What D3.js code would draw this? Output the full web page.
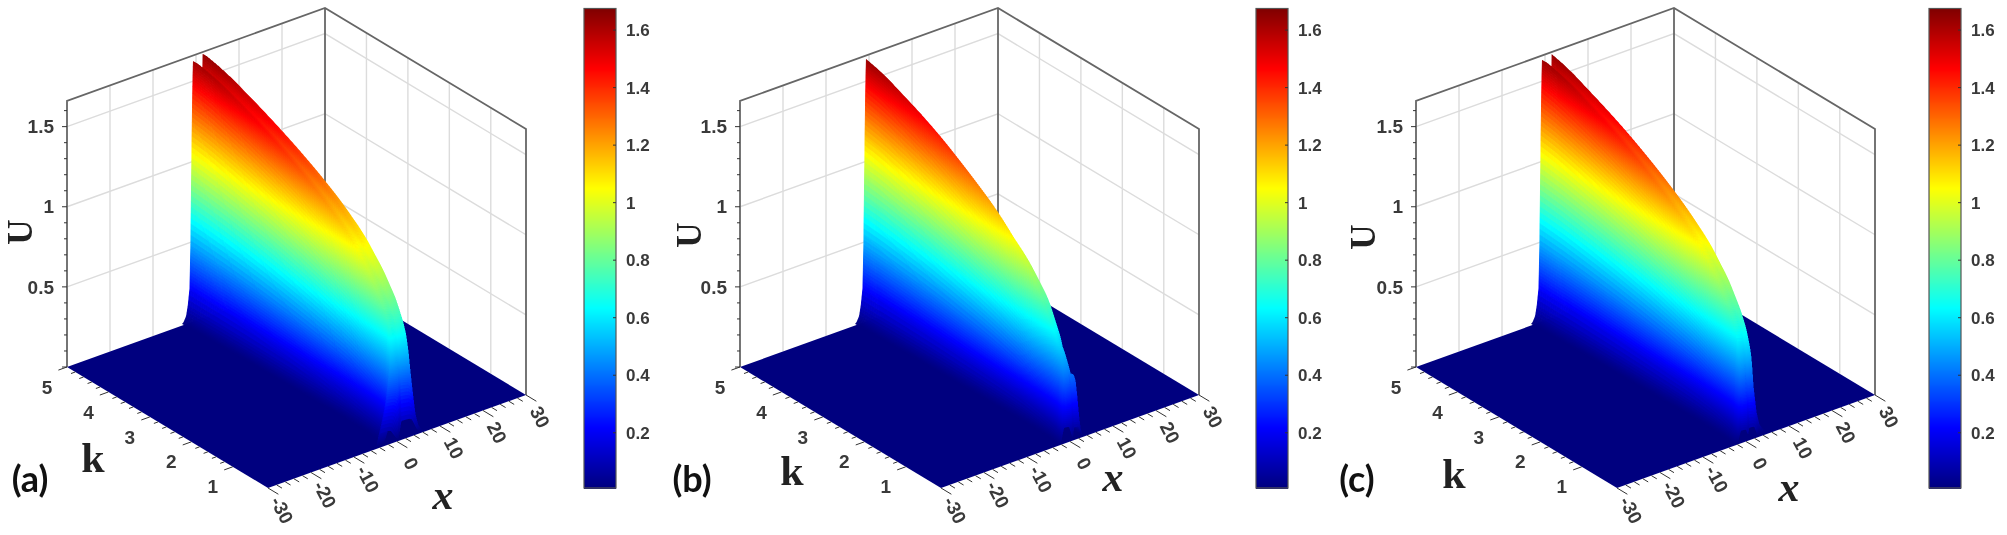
<!DOCTYPE html>
<html>
<head>
<meta charset="utf-8">
<style>
  html, body { margin: 0; padding: 0; background: #fff; }
  svg { display: block; filter: blur(0.6px); }
</style>
<script src="https://cdn.jsdelivr.net/npm/d3@7"></script>
</head>
<body>
<div id="chart"></div>
<script>
// AXIS TICKS
const xTicks = [-30, -20, -10, 0, 10, 20, 30];
const kTicks = [1, 2, 3, 4, 5];
const uTicks = [0.5, 1, 1.5];
const barTicks = [0.2, 0.4, 0.6, 0.8, 1, 1.2, 1.4, 1.6];
const panelLabels = ["(a)", "(b)", "(c)"];

// RANGES
const xRange = [-30, 30];
const kRange = [0.15, 5];
const uRange = [0, 1.66];
const barRange = [0.008, 1.675];

// JET COLOURS
const jetColors = ["#00007f", "#0000ff", "#00ffff", "#ffff00", "#ff0000", "#7f0000"];
const jetStops = [0, 0.125, 0.375, 0.625, 0.875, 1];

// RIDGE VALUES, one entry per k in kAnchors
const kAnchors = [0.15, 0.155, 0.16, 0.17, 0.18, 0.2, 0.23, 0.27, 0.35, 0.5, 0.82, 1.3, 1.9, 2.6, 3.45, 4.3, 5];

const rearPeakA = [0.12, 0.25, 0.36, 0.46, 0.52, 0.58, 0.64, 0.69, 0.75, 0.84, 0.97, 1.12, 1.25, 1.37, 1.49, 1.59, 1.665];
const rearPosA = [1, 0.9, 0.8, 0.7, 0.6, 0.6, 0.6, 0.7, 0.9, 1.1, 1.3, 1.5, 1.6, 1.6, 1.6, 1.6, 1.6];
const frontPeakA = [0.09, 0.2, 0.3, 0.42, 0.5, 0.56, 0.62, 0.67, 0.73, 0.82, 0.95, 1.1, 1.23, 1.35, 1.47, 1.57, 1.64];
const frontPosA = [-4, -3, -2.3, -1.7, -1.3, -1, -0.8, -0.7, -0.5, -0.3, -0.1, 0, -0.1, -0.2, -0.3, -0.5, -0.7];
const frontSpreadA = [1, 1, 1, 1, 1, 1, 1, 1, 1, 1, 1, 1, 1, 1, 1, 1, 1];

const rearPeakB = [0.08, 0.15, 0.22, 0.3, 0.35, 0.4, 0.41, 0.36, 0.3, 0.58, 0.8, 0.98, 1.13, 1.27, 1.41, 1.5, 1.58];
const rearPosB = [0.9, 0.8, 0.7, 0.6, 0.5, 0.5, 0.5, 0.5, 0.5, 0.5, 0.5, 0.4, 0.3, 0.2, 0.1, 0, -0.2];
const frontPeakB = [0.1, 0.16, 0.22, 0.3, 0.36, 0.42, 0.46, 0.5, 0.55, 0.62, 0.8, 1, 1.17, 1.31, 1.46, 1.57, 1.66];
const frontPosB = [-1.4, -1.3, -1.2, -1.1, -1, -0.9, -0.8, -0.7, -0.5, -0.3, -0.1, 0, -0.1, -0.2, -0.3, -0.5, -0.7];
const frontSpreadB = [0.5, 0.55, 0.6, 0.65, 0.7, 0.65, 0.6, 0.55, 0.5, 0.45, 0.4, 0.35, 0.3, 0.25, 0.2, 0.15, 0.1];

const rearPeakC = [0.08, 0.18, 0.27, 0.36, 0.42, 0.5, 0.56, 0.61, 0.68, 0.77, 0.92, 1.08, 1.22, 1.35, 1.48, 1.58, 1.665];
const rearPosC = [0.7, 0.6, 0.6, 0.5, 0.5, 0.5, 0.6, 0.7, 0.9, 1.1, 1.3, 1.5, 1.6, 1.6, 1.6, 1.6, 1.6];
const frontPeakC = [0.08, 0.15, 0.22, 0.31, 0.38, 0.46, 0.52, 0.58, 0.65, 0.75, 0.9, 1.06, 1.2, 1.33, 1.46, 1.57, 1.65];
const frontPosC = [-1.2, -1.1, -1.1, -1, -1, -0.9, -0.8, -0.7, -0.5, -0.3, -0.1, 0, -0.1, -0.2, -0.3, -0.5, -0.7];
const frontSpreadC = [0.5, 0.5, 0.6, 0.7, 0.8, 1, 1, 1, 1, 1, 1, 1, 1, 1, 1, 1, 1];

// CROSS SECTION OF ONE HUMP, steep on the -x side, slow on the +x side
const profileS = [-3, -2.2, -1.6, -1.2, -0.8, -0.6, -0.46, -0.3, -0.15, 0, 1, 2, 2.6, 3.2, 3.8, 4.5, 5.5, 6.5];
const profileU = [0, 0.01, 0.03, 0.07, 0.133, 0.3, 0.5, 0.72, 0.9, 1, 0.985, 0.965, 0.9, 0.6, 0.3, 0.12, 0.03, 0];

const rearWidths = [0.95, 0.45, 0.5];

const ridges = [
  { rearPeak: rearPeakA, rearPos: rearPosA, frontPeak: frontPeakA, frontPos: frontPosA, frontSpread: frontSpreadA },
  { rearPeak: rearPeakB, rearPos: rearPosB, frontPeak: frontPeakB, frontPos: frontPosB, frontSpread: frontSpreadB },
  { rearPeak: rearPeakC, rearPos: rearPosC, frontPeak: frontPeakC, frontPos: frontPosC, frontSpread: frontSpreadC }
];

// LAYOUT
const svgWidth = 2007;
const svgHeight = 535;
const panelShift = [0, 673, 1349];
const barShift = [0, 672, 1345];
const corner = { x: 268, y: 488 };
const bar = { x: 584, width: 32, top: 8.5, bottom: 488 };
const surfaceBox = { width: 560, height: 535, zoom: 2 };
const titles = [
  { u: [20, 232], k: [93, 472], x: [443, 509], tag: [30, 492] },
  { u: [689, 235], k: [792, 485], x: [1113, 491], tag: [692, 492] },
  { u: [1363, 237], k: [1454, 488], x: [1789, 501], tag: [1357, 492] }
];

// PROJECTION SCALES
const xToPx = d3.scaleLinear().domain(xRange).range([0, 258]);
const xToPy = d3.scaleLinear().domain(xRange).range([0, -93]);
const kToPx = d3.scaleLinear().domain(kRange).range([0, -201]);
const kToPy = d3.scaleLinear().domain(kRange).range([0, -121]);
const uToPy = d3.scaleLinear().domain(uRange).range([0, -266]);

const project = (x, k, u) => [
  corner.x + xToPx(x) + kToPx(k),
  corner.y + xToPy(x) + kToPy(k) + uToPy(u)
];

const colorScale = d3
  .scaleLinear()
  .domain(jetStops.map(d => barRange[0] + d * (barRange[1] - barRange[0])))
  .range(jetColors)
  .clamp(true);

const barScale = d3.scaleLinear().domain(barRange).range([bar.bottom, bar.top]);
const profile = d3.scaleLinear().domain(profileS).range(profileU).clamp(true);

const svg = d3
  .select("#chart")
  .append("svg")
  .attr("width", svgWidth)
  .attr("height", svgHeight)
  .attr("viewBox", `0 0 ${svgWidth} ${svgHeight}`);

const line = pts => `M${pts.map(p => p.join(",")).join("L")}`;

// MESH SAMPLES
const meshK = d3.range(0.15, 0.2, 0.001).concat(
  d3.range(0.2, 0.3, 0.003),
  d3.range(0.3, 1, 0.02),
  d3.range(1, 5, 0.05),
  [5]
);
const steepS = d3.range(-3, -0.8, 0.12).concat(d3.range(-0.8, 0.05, 0.015));
const slowS = d3.range(0.4, 2.4, 0.5).concat(d3.range(2.4, 5, 0.07), d3.range(5, 6.6, 0.4));

// read a ridge table at k, with a little easing around the anchors
const tableAt = arr => {
  const s = d3.scaleLinear().domain(kAnchors).range(arr).clamp(true);
  return k => {
    const w = 0.12 * (k - kRange[0]);
    return d3.mean([s(k - w), s(k - w / 2), s(k), s(k + w / 2), s(k + w)]);
  };
};

const rowsFor = i => {
  const r = ridges[i];
  const rp = tableAt(r.rearPeak);
  const rx = tableAt(r.rearPos);
  const fp = tableAt(r.frontPeak);
  const fx = tableAt(r.frontPos);
  const fs = tableAt(r.frontSpread);
  const rw = rearWidths[i];
  return meshK.map(k => {
    const c1 = fx(k);
    const c2 = rx(k);
    const a1 = fp(k);
    const a2 = rp(k);
    const sp = fs(k);
    const xs = steepS.map(s => c1 + s)
      .concat(slowS.map(s => c1 + s * sp), steepS.map(s => c2 + s * rw), slowS.map(s => c2 + s * rw))
      .sort(d3.ascending);
    return {
      k,
      pts: xs.map(x => {
        const d1 = x - c1;
        const u1 = a1 * profile(d1 < 0 ? d1 : d1 / sp);
        const u2 = a2 * profile((x - c2) / rw);
        return { x, u: Math.max(u1, u2) };
      })
    };
  });
};

// the surface mesh is too dense for svg nodes, so paint it once and place it as one image
const surfaceImage = i => {
  const canvas = d3.create("canvas")
    .attr("width", surfaceBox.width * surfaceBox.zoom)
    .attr("height", surfaceBox.height * surfaceBox.zoom)
    .node();
  const ctx = canvas.getContext("2d");
  ctx.scale(surfaceBox.zoom, surfaceBox.zoom);
  ctx.lineWidth = 0.5;
  const rows = rowsFor(i);
  for (let a = rows.length - 2; a >= 0; a--) {
    const near = rows[a];
    const far = rows[a + 1];
    for (let b = near.pts.length - 2; b >= 0; b--) {
      const n0 = near.pts[b];
      const n1 = near.pts[b + 1];
      const f0 = far.pts[b];
      const f1 = far.pts[b + 1];
      const top = Math.max(n0.u, n1.u, f0.u, f1.u);
      if (top < 0.012) continue;
      const c = colorScale((n0.u + n1.u + f0.u + f1.u) / 4);
      ctx.fillStyle = c;
      ctx.strokeStyle = c;
      ctx.beginPath();
      ctx.moveTo(...project(n0.x, near.k, n0.u));
      ctx.lineTo(...project(n1.x, near.k, n1.u));
      ctx.lineTo(...project(f1.x, far.k, f1.u));
      ctx.lineTo(...project(f0.x, far.k, f0.u));
      ctx.closePath();
      ctx.fill();
      ctx.stroke();
    }
  }
  return canvas.toDataURL("image/png");
};

const renderPanel = (g, i) => {
  const hair = "#dcdcdc";
  const box = "#666";
  const tx = "#3a3a3a";
  const dx = panelShift[i];
  const pos = titles[i];

  // WALL GRID
  const grid = g.append("g").attr("fill", "none").attr("stroke", hair).attr("stroke-width", 1.4);
  xTicks.slice(1, -1).forEach(x => {
    grid.append("path").attr("d", line([project(x, 5, 0), project(x, 5, uRange[1])]));
  });
  kTicks.slice(0, -1).forEach(k => {
    grid.append("path").attr("d", line([project(30, k, 0), project(30, k, uRange[1])]));
  });
  uTicks.forEach(u => {
    grid.append("path").attr("d", line([project(-30, 5, u), project(30, 5, u), project(30, kRange[0], u)]));
  });

  // BOX
  const frame = g.append("g").attr("fill", "none").attr("stroke", box).attr("stroke-width", 1.8);
  frame.append("path").attr("d", line([
    project(-30, 5, 0),
    project(-30, 5, uRange[1]),
    project(30, 5, uRange[1]),
    project(30, kRange[0], uRange[1]),
    project(30, kRange[0], 0)
  ]));
  frame.append("path").attr("d", line([project(30, 5, 0), project(30, 5, uRange[1])]));

  // FLOOR
  g.append("path")
    .attr("d", line([
      project(-30, kRange[0], 0),
      project(30, kRange[0], 0),
      project(30, 5, 0),
      project(-30, 5, 0)
    ]) + "Z")
    .attr("fill", jetColors[0]);

  // SURFACE
  g.append("image")
    .attr("width", surfaceBox.width)
    .attr("height", surfaceBox.height)
    .attr("href", surfaceImage(i));

  // TICK MARKS
  const ticks = g.append("g").attr("fill", "none").attr("stroke", "#333").attr("stroke-width", 1);
  d3.range(-30, 30.01, 2).forEach(x => {
    const len = x % 10 === 0 ? 0.25 : 0.13;
    ticks.append("path").attr("d", line([project(x, kRange[0], 0), project(x, kRange[0] - len, 0)]));
  });
  d3.range(1, 5.01, 0.2).forEach(k => {
    const len = Math.abs(k - Math.round(k)) < 0.01 ? 2 : 1;
    ticks.append("path").attr("d", line([project(-30, k, 0), project(-30 - len, k, 0)]));
  });
  d3.range(0, 1.61, 0.1).forEach(u => {
    const major = Math.abs(u * 2 - Math.round(u * 2)) < 0.01;
    const p = project(-30, 5, u);
    ticks.append("path").attr("d", line([p, [p[0] - (major ? 5 : 3), p[1]]]));
  });

  // TICK LABELS
  const labels = g.append("g")
    .attr("font-family", "'Liberation Sans', Arial, sans-serif")
    .attr("font-size", 19)
    .attr("font-weight", "bold")
    .attr("fill", tx);
  xTicks.forEach(x => {
    const p = project(x, kRange[0], 0);
    labels.append("text")
      .attr("transform", `translate(${p[0] + 14},${p[1] + 22}) rotate(62)`)
      .attr("text-anchor", "middle")
      .attr("dy", "0.35em")
      .text(x);
  });
  kTicks.forEach(k => {
    const p = project(-30, k, 0);
    labels.append("text")
      .attr("x", p[0] - 20)
      .attr("y", p[1] + 20)
      .attr("text-anchor", "middle")
      .attr("dy", "0.35em")
      .text(k);
  });
  uTicks.forEach(u => {
    const p = project(-30, 5, u);
    labels.append("text")
      .attr("x", p[0] - 13)
      .attr("y", p[1])
      .attr("text-anchor", "end")
      .attr("dy", "0.35em")
      .text(u);
  });

  // AXIS TITLES
  const serif = "'Liberation Serif', 'Times New Roman', serif";
  g.append("text")
    .attr("transform", `translate(${pos.u[0] - dx},${pos.u[1]}) rotate(-90)`)
    .attr("text-anchor", "middle")
    .attr("dy", "0.35em")
    .attr("font-family", serif)
    .attr("font-weight", "bold")
    .attr("font-size", 35)
    .attr("fill", "#222")
    .text("U");
  g.append("text")
    .attr("x", pos.k[0] - dx)
    .attr("y", pos.k[1])
    .attr("text-anchor", "middle")
    .attr("font-family", serif)
    .attr("font-weight", "bold")
    .attr("font-size", 42)
    .attr("fill", "#222")
    .text("k");
  g.append("text")
    .attr("x", pos.x[0] - dx)
    .attr("y", pos.x[1])
    .attr("text-anchor", "middle")
    .attr("font-family", serif)
    .attr("font-style", "italic")
    .attr("font-weight", "bold")
    .attr("font-size", 42)
    .attr("fill", "#222")
    .text("x");
  g.append("text")
    .attr("x", pos.tag[0] - dx)
    .attr("y", pos.tag[1])
    .attr("text-anchor", "middle")
    .attr("font-family", "Lato, 'Liberation Sans', sans-serif")
    .attr("font-weight", 700)
    .attr("font-size", 36)
    .attr("fill", "#111")
    .text(panelLabels[i]);
};

const renderBar = g => {
  const steps = d3.range(bar.top, bar.bottom, 1);
  g.append("g")
    .selectAll("rect")
    .data(steps)
    .enter()
    .append("rect")
    .attr("x", bar.x)
    .attr("y", d => d)
    .attr("width", bar.width)
    .attr("height", 1.5)
    .attr("fill", d => colorScale(barScale.invert(d + 0.5)));
  g.append("rect")
    .attr("x", bar.x)
    .attr("y", bar.top)
    .attr("width", bar.width)
    .attr("height", bar.bottom - bar.top)
    .attr("fill", "none")
    .attr("stroke", "#555")
    .attr("stroke-width", 1.2);
  barTicks.forEach(t => {
    g.append("path")
      .attr("d", line([[bar.x + bar.width - 3, barScale(t)], [bar.x + bar.width, barScale(t)]]))
      .attr("stroke", "#333");
    g.append("text")
      .attr("x", bar.x + bar.width + 10)
      .attr("y", barScale(t))
      .attr("dy", "0.35em")
      .attr("font-family", "'Liberation Sans', Arial, sans-serif")
      .attr("font-size", 17)
      .attr("font-weight", "bold")
      .attr("fill", "#3a3a3a")
      .text(t);
  });
};

panelShift.forEach((dx, i) => {
  renderPanel(svg.append("g").attr("transform", `translate(${dx},0)`), i);
  renderBar(svg.append("g").attr("transform", `translate(${barShift[i]},0)`));
});
</script>
</body>
</html>
